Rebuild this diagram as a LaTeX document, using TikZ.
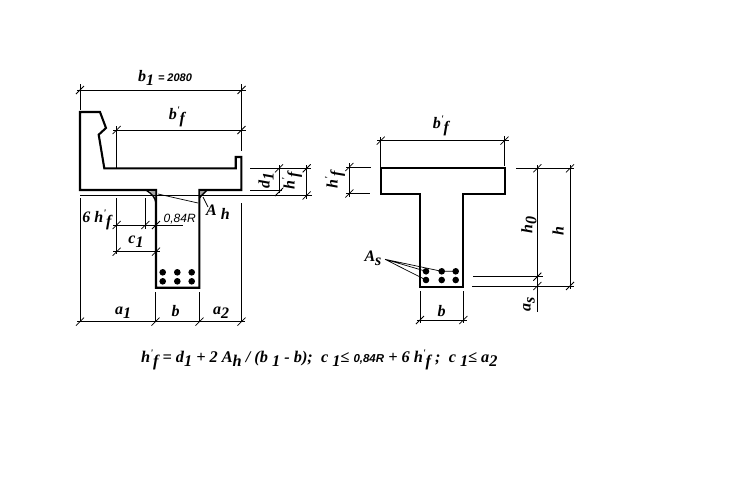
\documentclass[tikz,border=0pt]{standalone}
\usepackage{fontspec}
\setmainfont{Liberation Serif}
\setsansfont{Liberation Sans}
\tikzset{
  x=1pt,y=-1pt,
  beam/.style={line width=2.1pt,line join=miter},
  dimln/.style={line width=0.75pt},
  leader/.style={line width=0.7pt},
  lbl/.style={font=\bfseries\itshape\fontsize{16}{16}\selectfont,inner sep=0pt},
  lblr/.style={lbl,rotate=90},
  smalllbl/.style={font=\itshape\sffamily\fontsize{12}{12}\selectfont,inner sep=0pt},
  rebar/.style={fill=black,draw=none,circle,minimum size=6.6pt,inner sep=0pt},
  tk/.pic={\draw[dimln] (-4,4) -- (4,-4);}
}
\newcommand{\dn}[1]{\raisebox{-4pt}{#1}}
\newcommand{\pr}{\raisebox{6pt}{\fontsize{10}{10}\selectfont\textquotesingle}}
\begin{document}
\begin{tikzpicture}
\useasboundingbox (0,0) rectangle (737,482);
% left section
\draw[beam] (80,112) -- (100,112) -- (106,128) -- (98.7,134.7) -- (104.3,168.3) -- (235.7,168.3) -- (235.7,157) -- (241.3,157) -- (241.3,190) -- (199.3,190) -- (199.3,287.7) -- (156,287.7) -- (156,190) -- (80,190) -- cycle;
\fill[white] (147,191) -- (155,191) -- (155,200) -- cycle;
\fill[gray!70] (150,191) -- (155,191) -- (155,197) -- cycle;
\draw[line width=1.4pt] (146,190) .. controls (152,194) and (155,197) .. (156,203);
\fill[gray!70] (200.3,191) -- (206,191) -- (200.3,197) -- cycle;
\draw[line width=1.4pt] (207,190) -- (199.3,198);
\node[rebar] (L1) at (162.7,272.3) {}; \node[rebar] (L2) at (177.3,272.3) {}; \node[rebar] (L3) at (191.7,272.3) {};
\node[rebar] (L4) at (162.7,281.3) {}; \node[rebar] (L5) at (177.3,281.3) {}; \node[rebar] (L6) at (191.7,281.3) {};
% b1
\draw[dimln] (77,90) -- (246,90) (80,84) -- (80,110) (241.5,84) -- (241.5,151);
\pic at (80,90) {tk}; \pic at (241.5,90) {tk};
\node[lbl,anchor=base] (b1) at (165,81) {b\dn{1} \textsf{\fontsize{11}{11}\selectfont = 2080}};
% b'f
\draw[dimln] (113,130) -- (246,130) (116.7,126) -- (116.7,168);
\pic at (116.7,130) {tk}; \pic at (241.5,130) {tk};
\node[lbl,anchor=base] (bfL) at (177,119) {b\pr\dn{f}};
% d1, h'f
\draw[dimln] (250,168.3) -- (311,168.3) (250,190) -- (282,190) (80,195.5) -- (312,195.5) (279,165) -- (279,193) (306.7,165) -- (306.7,199);
\pic at (279,168.3) {tk}; \pic at (279,192) {tk}; \pic at (306.7,168.3) {tk}; \pic at (306.7,195.5) {tk};
\node[lblr] (d1) at (266,180) {d\dn{1}};
\node[lblr] (hfa) at (292,181) {h\pr\dn{f}};
% A_h
\draw[leader] (158,194) -- (198,203) (203,197) -- (208,207);
\node[lbl,anchor=base west] (Ah) at (206,215) {A \dn{h}};
% extension lines
\draw[dimln] (80,198) -- (80,322) (116.7,198) -- (116.7,254) (145.3,198) -- (145.3,229) (155.5,292) -- (155.5,322) (199.5,292) -- (199.5,322) (241.5,203) -- (241.5,322);
% 6 h'f / 0,84R
\draw[dimln] (113,225) -- (183,225);
\pic at (116.7,225) {tk}; \pic at (145.3,225) {tk}; \pic at (156,225) {tk};
\node[lbl,anchor=base] (six) at (97,222) {6 h\pr\dn{f}};
\node[smalllbl,anchor=base west] (R) at (163.5,222.5) {0,84R};
% c1
\draw[dimln] (113,251.7) -- (160,251.7);
\pic at (116.7,251.7) {tk}; \pic at (156,251.7) {tk};
\node[lbl,anchor=base] (c1) at (136,243) {c\dn{1}};
% bottom dims
\draw[dimln] (77,321.7) -- (245,321.7);
\pic at (80,321.7) {tk}; \pic at (155.5,321.7) {tk}; \pic at (199.5,321.7) {tk}; \pic at (241.5,321.7) {tk};
\node[lbl,anchor=base] (a1) at (123,314) {a\dn{1}};
\node[lbl,anchor=base] (bL) at (175.5,316) {b};
\node[lbl,anchor=base] (a2) at (221,314) {a\dn{2}};
% right section
\draw[beam] (380.7,167.7) -- (505,167.7) -- (505,194) -- (463.3,194) -- (463.3,286.7) -- (420,286.7) -- (420,194) -- (380.7,194) -- cycle;
\node[rebar] (R1) at (426,271.3) {}; \node[rebar] (R2) at (441.7,271.3) {}; \node[rebar] (R3) at (455.7,271.3) {};
\node[rebar] (R4) at (426,280) {}; \node[rebar] (R5) at (441.7,280) {}; \node[rebar] (R6) at (455.7,280) {};
% b'f right
\draw[dimln] (377,140.7) -- (509,140.7) (380.7,137) -- (380.7,167) (504.5,136) -- (504.5,166);
\pic at (380.7,140.7) {tk}; \pic at (504.5,140.7) {tk};
\node[lbl,anchor=base] (bfR) at (441,128) {b\pr\dn{f}};
% h'f right
\draw[dimln] (346,167) -- (371,167) (346,193.5) -- (370,193.5) (349.3,163) -- (349.3,197);
\pic at (349.3,167) {tk}; \pic at (349.3,193.5) {tk};
\node[lblr] (hfb) at (335,180) {h\pr\dn{f}};
% h0, h, as
\draw[dimln] (516,168.3) -- (574,168.3) (473,276.7) -- (543,276.7) (472,286) -- (574,286) (537.3,165) -- (537.3,311.7) (570,165) -- (570,289);
\pic at (537.3,168.3) {tk}; \pic at (570,168.3) {tk}; \pic at (537.3,276.7) {tk}; \pic at (537.3,286) {tk}; \pic at (570,286) {tk};
\node[lblr] (h0) at (529,225) {h\dn{0}};
\node[lblr] (h) at (558,231) {h};
\node[lblr] (as) at (529,304) {a\dn{s}};
% b right
\draw[dimln] (417,320) -- (467,320) (420,291) -- (420,323) (463.3,291) -- (463.3,323);
\pic at (420,320) {tk}; \pic at (463.3,320) {tk};
\node[lbl,anchor=base] (bR) at (441.7,316) {b};
% As
\node[lbl,anchor=base] (As) at (373,261) {A\dn{s}};
\coordinate (Asp) at (385,259.3);
\draw[leader] (Asp) -- (R1.center) (Asp) -- (R4.center) (Asp) -- (R2.center) -- (R3.center);
% formula
\node[lbl,anchor=base west,font=\bfseries\itshape\fontsize{16.3}{16.3}\selectfont] (form) at (141,362) {h\pr\dn{f} = d\dn{1} + 2 A\dn{h} / (b \dn{1} - b);\ \ c \dn{1}≤ \textsf{\fontsize{11.5}{11.5}\selectfont 0,84R} + 6 h\pr\dn{f} ;\ \ c \dn{1}≤ a\dn{2}};
\end{tikzpicture}
\end{document}
